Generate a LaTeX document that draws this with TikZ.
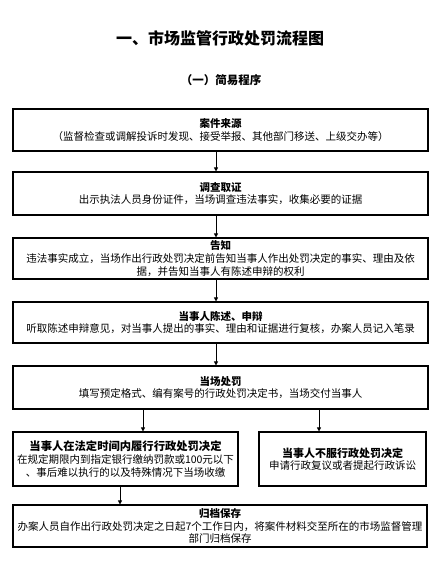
\documentclass[tikz,border=0pt]{standalone}
\usepackage{fontspec}
\setmainfont{Noto Sans CJK SC}
\usetikzlibrary{arrows.meta}
\begin{document}
\begin{tikzpicture}[x=1pt,y=-1pt,
  box/.style={draw=black,line width=1.1pt,rectangle,inner sep=0pt,align=center,
    font=\fontsize{10.5}{12.6}\selectfont},
  arr/.style={line width=0.8pt,-{Triangle[length=4pt,width=4pt]}},
  hd/.style={font=\fontsize{10.5}{12.6}\selectfont\bfseries}]
\useasboundingbox[fill=white] (0,0) rectangle (443,583);
\node[font=\fontsize{16}{18}\selectfont\bfseries] (title) at (220,38) {一、市场监管行政处罚流程图};
\node[font=\fontsize{11.5}{13}\selectfont\bfseries] (sub) at (221,80) {（一）简易程序};

\node[box,minimum width=415pt,minimum height=42pt] (b1) at (220.5,130)
 {{\bfseries 案件来源}\\（监督检查或调解投诉时发现、接受举报、其他部门移送、上级交办等）};
\node[box,minimum width=415pt,minimum height=43pt] (b2) at (220.5,193.5)
 {{\bfseries 调查取证}\\出示执法人员身份证件，当场调查违法事实，收集必要的证据};
\node[box,minimum width=415pt,minimum height=41pt] (b3) at (220.5,258.5)
 {{\bfseries 告知}\\违法事实成立，当场作出行政处罚决定前告知当事人作出处罚决定的事实、理由及依\\据，并告知当事人有陈述申辩的权利};
\node[box,minimum width=415pt,minimum height=41pt] (b4) at (220.5,322.5)
 {{\bfseries 当事人陈述、申辩}\\听取陈述申辩意见，对当事人提出的事实、理由和证据进行复核，办案人员记入笔录};
\node[box,minimum width=415pt,minimum height=43pt] (b5) at (220.5,387.5)
 {{\bfseries 当场处罚}\\填写预定格式、编有案号的行政处罚决定书，当场交付当事人};
\node[box,minimum width=225pt,minimum height=54pt] (b6) at (125.5,459)
 {{\fontsize{11.3}{12.6}\selectfont\bfseries 当事人在法定时间内履行行政处罚决定}\\在规定期限内到指定银行缴纳罚款或100元以下\\、事后难以执行的以及特殊情况下当场收缴};
\node[box,minimum width=167pt,minimum height=54pt] (b7) at (342.5,459)
 {{\fontsize{11}{12.6}\selectfont\bfseries 当事人不服行政处罚决定}\\申请行政复议或者提起行政诉讼};
\node[box,minimum width=414pt,minimum height=42pt] (b8) at (220,526)
 {{\bfseries 归档保存}\\办案人员自作出行政处罚决定之日起7个工作日内，将案件材料交至所在的市场监督管理\\部门归档保存};

\coordinate (ax) at (216,0);
\coordinate (lx) at (143,0);
\coordinate (rx) at (319,0);
\coordinate (fx) at (120,0);
\draw[arr] (b1.south -| ax) -- (b2.north -| ax);
\draw[arr] (b2.south -| ax) -- (b3.north -| ax);
\draw[arr] (b3.south -| ax) -- (b4.north -| ax);
\draw[arr] (b4.south -| ax) -- (b5.north -| ax);
\draw[arr] (b5.south -| lx) -- (b6.north -| lx);
\draw[arr] (b5.south -| rx) -- (b7.north -| rx);
\draw[arr] (b6.south -| fx) -- (b8.north -| fx);
\end{tikzpicture}
\end{document}
